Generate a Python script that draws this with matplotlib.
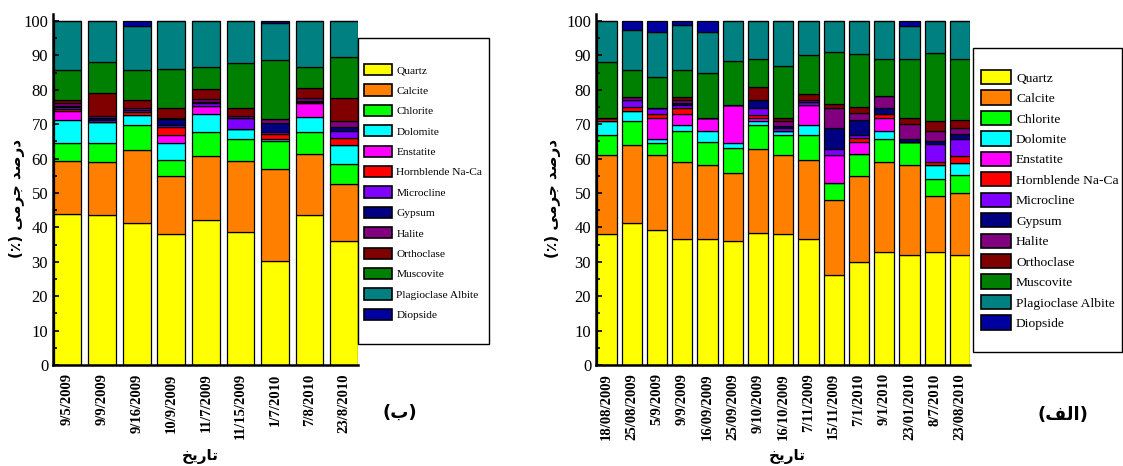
import numpy as np
import matplotlib
matplotlib.use('Agg')
import matplotlib.pyplot as plt
from matplotlib.patches import Patch, Rectangle

plt.rcParams['font.family'] = ['Liberation Serif', 'DejaVu Sans']

minerals = ['Quartz', 'Calcite', 'Chlorite', 'Dolomite', 'Enstatite', 'Hornblende Na-Ca',
            'Microcline', 'Gypsum', 'Halite', 'Orthoclase', 'Muscovite', 'Plagioclase Albite',
            'Diopside']
colors = ['#ffff00', '#ff8000', '#00ff00', '#00ffff', '#ff00ff', '#ff0000',
          '#8000ff', '#000080', '#800080', '#800000', '#008000', '#008080', '#0000a0']

# panel (b)
dates_b = ['9/5/2009', '9/9/2009', '9/16/2009', '10/9/2009', '11/7/2009', '11/15/2009',
           '1/7/2010', '7/8/2010', '23/8/2010']
quartz_b = [44.0, 43.6, 41.2, 38.2, 42.2, 38.7, 30.2, 43.5, 36.0]
calcite_b = [15.4, 15.4, 21.3, 16.6, 18.4, 20.5, 26.7, 17.8, 16.7]
chlorite_b = [5.0, 5.6, 7.2, 4.9, 7.1, 6.6, 8.2, 6.5, 5.8]
dolomite_b = [6.8, 5.9, 2.9, 4.8, 5.1, 2.9, 0.7, 4.4, 5.5]
enstatite_b = [2.5, 0, 0, 2.3, 2.5, 0, 0, 3.8, 0]
hornblende_b = [0.6, 0, 0.9, 2.4, 0, 0, 1.2, 0, 2.1]
microcline_b = [0.7, 0.6, 0.5, 0.6, 0.7, 3.0, 0.8, 0.5, 1.9]
gypsum_b = [0.3, 0.6, 0, 1.6, 0.4, 0, 2.6, 0.3, 1.2]
halite_b = [0.8, 0.6, 0.6, 0.5, 0.8, 0.8, 1.2, 0.7, 1.7]
orthoclase_b = [1.0, 6.6, 2.5, 2.7, 2.9, 2.3, 0, 2.9, 6.6]
muscovite_b = [8.6, 9.1, 8.7, 11.3, 6.4, 13.1, 17.0, 6.2, 12.1]
plagioclase_b = [14.3, 12.0, 12.8, 14.1, 13.5, 12.1, 10.8, 13.4, 10.4]
diopside_b = [0, 0, 1.4, 0, 0, 0, 0.6, 0, 0]

# panel (a)
dates_a = ['18/08/2009', '25/08/2009', '5/9/2009', '9/9/2009', '16/09/2009', '25/09/2009',
           '9/10/2009', '16/10/2009', '7/11/2009', '15/11/2009', '7/1/2010', '9/1/2010',
           '23/01/2010', '8/7/2010', '23/08/2010']
quartz_a = [38.1, 41.3, 39.2, 36.7, 36.7, 36.0, 38.3, 38.1, 36.7, 26.2, 30.0, 32.9, 31.9, 32.9, 31.9]
calcite_a = [22.9, 22.6, 21.8, 22.2, 21.4, 19.9, 24.4, 22.9, 22.9, 21.8, 25.0, 26.1, 26.2, 16.1, 18.2]
chlorite_a = [5.9, 7.0, 3.6, 9.2, 6.7, 7.1, 7.0, 5.9, 7.3, 5.0, 6.2, 6.8, 6.6, 5.0, 5.0]
dolomite_a = [4.0, 2.9, 1.2, 1.7, 3.3, 1.6, 1.1, 1.0, 2.9, 0, 0, 2.3, 0, 4.1, 3.7]
enstatite_a = [0, 0, 6.1, 3.1, 3.8, 11.1, 0.9, 0, 5.7, 8.0, 3.7, 3.8, 0, 0, 0]
hornblende_a = [1.0, 1.2, 0.9, 1.9, 0, 0, 0.9, 0, 0, 0, 1.0, 1.0, 0, 0.9, 1.9]
microcline_a = [0, 1.9, 2.0, 0.8, 0, 0, 2.0, 1.0, 0.8, 1.9, 1.0, 0, 0, 5.2, 4.9]
gypsum_a = [0, 0, 0, 0.5, 0, 0, 2.4, 0.6, 0, 5.9, 4.2, 1.9, 0.9, 0.9, 1.4]
halite_a = [0, 0.9, 0, 0.8, 0, 0, 0, 1.4, 0.8, 6.0, 2.0, 3.4, 4.4, 2.9, 2.0]
orthoclase_a = [0, 0, 0, 0.9, 0, 0, 3.9, 1.0, 1.6, 1.0, 2.0, 0, 1.9, 2.9, 2.2]
muscovite_a = [16.2, 8.0, 8.9, 8.0, 12.9, 12.5, 8.0, 15.1, 11.3, 15.2, 15.3, 10.7, 17.0, 19.9, 17.6]
plagioclase_a = [11.9, 11.6, 13.2, 12.9, 12.1, 11.8, 11.1, 13.0, 10.0, 9.0, 9.6, 11.1, 9.7, 9.2, 11.2]
diopside_a = [0, 2.6, 3.1, 1.3, 3.1, 0, 0, 0, 0, 0, 0, 0, 1.4, 0, 0]

series_b = [quartz_b, calcite_b, chlorite_b, dolomite_b, enstatite_b, hornblende_b, microcline_b,
            gypsum_b, halite_b, orthoclase_b, muscovite_b, plagioclase_b, diopside_b]
series_a = [quartz_a, calcite_a, chlorite_a, dolomite_a, enstatite_a, hornblende_a, microcline_a,
            gypsum_a, halite_a, orthoclase_a, muscovite_a, plagioclase_a, diopside_a]

# Persian labels written in presentation forms, visual order (no bidi shaping in matplotlib)
ylab = '(\u066a) \ufef0\ufee3\ufeae\ufe9f \ufeaa\ufebb\ufead\ufea9'
xlab = '\ufea6\ufef3\ufead\ufe8e\ufe97'
tag_b = '(\u0628)'
tag_a = '(\ufed2\ufedf\ufe8d)'

W, H = 1123, 466
fig = plt.figure(figsize=(W / 100, H / 100), dpi=100)


def stacked(ax, dates, series):
    x = np.arange(len(dates))
    bottom = np.zeros(len(dates))
    for vals, col in zip(series, colors):
        vals = np.array(vals, dtype=float)
        ax.bar(x, vals, 0.8, bottom=bottom, color=col, edgecolor='black', linewidth=0.9)
        bottom += vals
    ax.set_xlim(-0.42, len(dates) - 0.6)
    ax.set_ylim(0, 102)
    ax.set_yticks(np.arange(0, 101, 10))
    ax.set_yticks(np.arange(5, 100, 10), minor=True)
    ax.set_xticks(x)
    ax.set_xticklabels(dates, rotation=90, fontsize=10.5, fontweight='bold')
    ax.tick_params(axis='x', length=0, pad=6)
    ax.tick_params(axis='y', which='both', direction='in', width=1.2, labelsize=12)
    ax.tick_params(axis='y', which='major', length=4)
    ax.tick_params(axis='y', which='minor', length=3)
    for s in ['top', 'right']:
        ax.spines[s].set_visible(False)
    for s in ['left', 'bottom']:
        ax.spines[s].set_linewidth(1.8)


def box_legend(x0, y0, x1, y1, hx, hy, fs, hl, hh, sp):
    fig.patches.append(Rectangle((x0 / W, 1 - y1 / H), (x1 - x0) / W, (y1 - y0) / H,
                                 transform=fig.transFigure, facecolor='white',
                                 edgecolor='black', linewidth=1.0, zorder=0))
    handles = [Patch(facecolor=c, edgecolor='black', linewidth=1.2) for c in colors]
    fig.legend(handles, minerals, loc='upper left', bbox_to_anchor=(hx / W, 1 - hy / H),
               frameon=False, borderpad=0, borderaxespad=0, fontsize=fs,
               handlelength=hl, handleheight=hh, labelspacing=sp, handletextpad=0.35)


ax_b = fig.add_axes([53 / W, 1 - 365 / H, 305 / W, 351 / H])
stacked(ax_b, dates_b, series_b)
ax_a = fig.add_axes([596 / W, 1 - 365 / H, 374 / W, 351 / H])
stacked(ax_a, dates_a, series_a)

box_legend(358, 38, 489, 344, 364, 64, 8.2, 2.5, 1.15, 0.78)
box_legend(973, 48, 1122, 352, 981, 70, 9.7, 2.25, 1.25, 0.43)

fig.text(17 / W, 1 - 198 / H, ylab, rotation=90, ha='center', va='center',
         fontsize=11, fontweight='bold', family='DejaVu Sans')
fig.text(553 / W, 1 - 198 / H, ylab, rotation=90, ha='center', va='center',
         fontsize=11, fontweight='bold', family='DejaVu Sans')
fig.text(200 / W, 1 - 456 / H, xlab, ha='center', va='center',
         fontsize=11, fontweight='bold', family='DejaVu Sans')
fig.text(787 / W, 1 - 456 / H, xlab, ha='center', va='center',
         fontsize=11, fontweight='bold', family='DejaVu Sans')
fig.text(400 / W, 1 - 413 / H, tag_b, ha='center', va='center',
         fontsize=13, fontweight='bold', family='DejaVu Sans')
fig.text(1063 / W, 1 - 415 / H, tag_a, ha='center', va='center',
         fontsize=13, fontweight='bold', family='DejaVu Sans')

fig.savefig('out.png', dpi=100)
